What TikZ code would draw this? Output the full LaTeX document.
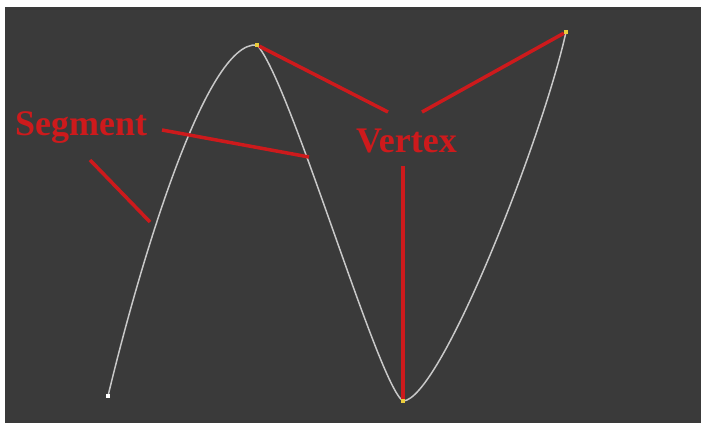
\documentclass[tikz,border=0pt]{standalone}
\usepackage{fontspec}
\setmainfont{Liberation Serif}
\usetikzlibrary{positioning}
\definecolor{bgdark}{RGB}{58,58,58}
\definecolor{labelred}{RGB}{205,26,28}
\definecolor{curvegray}{RGB}{200,200,200}
\definecolor{vertexyellow}{RGB}{235,205,60}

\begin{document}
\begin{tikzpicture}[
x=1pt,y=-1pt,
label/.style={
text=labelred,
font=\bfseries\fontsize{36}{40}\selectfont,
inner sep=0pt
},
pointer/.style={draw=labelred,line width=3.5pt},
vertexdot/.style={fill=vertexyellow,minimum size=4pt,inner sep=0pt},
startdot/.style={fill=white,minimum size=4pt,inner sep=0pt},
curve/.style={draw=curvegray,line width=1.5pt}
]

\useasboundingbox (0,0) rectangle (703,425);
\fill[white] (0,0) rectangle (703,425);
\fill[bgdark] (5,7) rectangle (701,423);

\coordinate (p0) at (108,396);
\coordinate (p1) at (257,45);
\coordinate (p2) at (403,401);
\coordinate (p3) at (566,32);

\draw[curve] (p0) .. controls (138,271) and (205,40) .. (p1)
.. controls (290,80) and (378,385) .. (p2)
.. controls (440,400) and (542,140) .. (p3);

\node[startdot] (start) at (p0) {};
\node[vertexdot] (top) at (p1) {};
\node[vertexdot] (bottom) at (p2) {};
\node[vertexdot] (right) at (p3) {};

\node[label,anchor=base west] (segment) at (15,135) {Segment};
\node[label,anchor=base west] (vertex) at (356,152) {Vertex};

\coordinate (segleft) at (90,160);
\coordinate (segright) at (162,130);
\coordinate (onleft) at (150,222);
\coordinate (onmiddle) at (309,157);
\coordinate (vtxleft) at (388,112);
\coordinate (vtxright) at (422,112);
\coordinate (vtxdown) at (403,166);

\draw[pointer](segleft)--(onleft);
\draw[pointer](segright)--(onmiddle);
\draw[pointer](vtxleft)--(top);
\draw[pointer](vtxright)--(right);
\draw[pointer](vtxdown)--(bottom);

\end{tikzpicture}
\end{document}
